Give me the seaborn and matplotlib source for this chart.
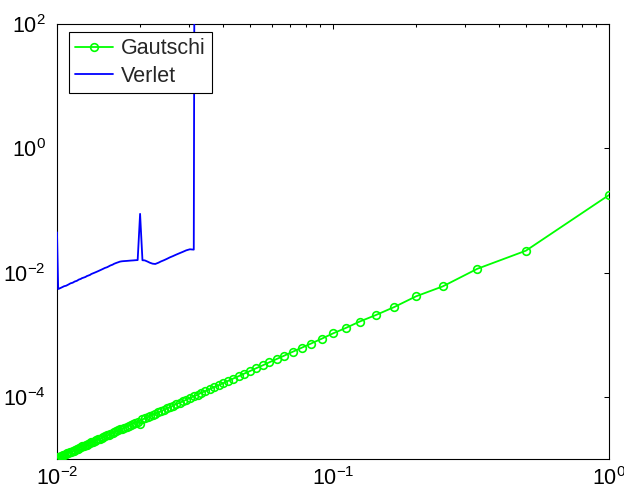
import numpy as np
import pandas as pd
import seaborn as sns
import matplotlib.pyplot as plt
from matplotlib.ticker import LogLocator, NullLocator

sns.set_style('white')
plt.rcParams['font.family'] = ['Liberation Sans', 'DejaVu Sans']
plt.rcParams['mathtext.fontset'] = 'custom'
plt.rcParams['mathtext.rm'] = 'Liberation Sans'
plt.rcParams['mathtext.it'] = 'Liberation Sans:italic'
plt.rcParams['mathtext.bf'] = 'Liberation Sans:bold'

# step sizes h = 1/n, n = 1..100
step_h = [1.0, 0.5, 0.3333, 0.25, 0.2, 0.1667, 0.1429, 0.125, 0.1111, 0.1,
          0.0909, 0.0833, 0.0769, 0.0714, 0.0667, 0.0625, 0.0588, 0.0556, 0.0526, 0.05,
          0.0476, 0.0455, 0.0435, 0.0417, 0.04, 0.0385, 0.037, 0.0357, 0.0345, 0.0333,
          0.0323, 0.0313, 0.0303, 0.0294, 0.0286, 0.0278, 0.027, 0.0263, 0.0256, 0.025,
          0.0244, 0.0238, 0.0233, 0.0227, 0.0222, 0.0217, 0.0213, 0.0208, 0.0204, 0.02,
          0.0196, 0.0192, 0.0189, 0.0185, 0.0182, 0.0179, 0.0175, 0.0172, 0.0169, 0.0167,
          0.0164, 0.0161, 0.0159, 0.0156, 0.0154, 0.0152, 0.0149, 0.0147, 0.0145, 0.0143,
          0.0141, 0.0139, 0.0137, 0.0135, 0.0133, 0.0132, 0.013, 0.0128, 0.0127, 0.0125,
          0.0123, 0.0122, 0.012, 0.0119, 0.0118, 0.0116, 0.0115, 0.0114, 0.0112, 0.0111,
          0.011, 0.0109, 0.0108, 0.0106, 0.0105, 0.0104, 0.0103, 0.0102, 0.0101, 0.01]

# Gautschi error, same order as step_h
gautschi_err = [0.177, 0.0225, 0.0115, 0.0060, 0.00415, 0.00279, 0.00207, 1.63e-3, 1.28e-3, 1.05e-3,
                8.60e-4, 7.22e-4, 6.15e-4, 5.31e-4, 4.62e-4, 4.06e-4, 3.60e-4, 3.21e-4, 2.88e-4, 2.60e-4,
                2.36e-4, 2.15e-4, 1.97e-4, 1.81e-4, 1.66e-4, 1.54e-4, 1.43e-4, 1.33e-4, 1.24e-4, 1.16e-4,
                1.08e-4, 1.02e-4, 9.55e-5, 9.00e-5, 8.49e-5, 8.02e-5, 7.60e-5, 7.20e-5, 6.84e-5, 6.50e-5,
                6.19e-5, 5.90e-5, 5.62e-5, 5.37e-5, 5.14e-5, 4.91e-5, 4.71e-5, 4.51e-5, 4.33e-5, 3.65e-5,
                4.00e-5, 3.85e-5, 3.70e-5, 3.57e-5, 3.44e-5, 3.32e-5, 3.20e-5, 3.09e-5, 2.99e-5, 2.89e-5,
                2.79e-5, 2.71e-5, 2.62e-5, 2.54e-5, 2.46e-5, 2.39e-5, 2.32e-5, 2.25e-5, 2.18e-5, 2.12e-5,
                2.06e-5, 2.01e-5, 1.95e-5, 1.90e-5, 1.85e-5, 1.80e-5, 1.75e-5, 1.71e-5, 1.67e-5, 1.63e-5,
                1.59e-5, 1.55e-5, 1.51e-5, 1.47e-5, 1.44e-5, 1.41e-5, 1.37e-5, 1.34e-5, 1.31e-5, 1.28e-5,
                1.26e-5, 1.23e-5, 1.20e-5, 1.18e-5, 1.15e-5, 1.13e-5, 1.11e-5, 1.08e-5, 1.06e-5, 1.05e-5]

# Verlet error for n = 31..100 (blows up at n = 31)
verlet_err = [1e25, 0.0234, 0.0237, 0.0228, 0.0216, 0.0205, 0.0194, 0.0184, 0.0175, 0.0166,
              0.0158, 0.0151, 0.0144, 0.01375, 0.0139, 0.0144, 0.0150, 0.0157, 0.0158, 0.088,
              0.0159, 0.0158, 0.0157, 0.0156, 0.0155, 0.0154, 0.0153, 0.0152, 0.0150, 0.0147,
              0.0143, 0.01384, 0.0134, 0.01299, 0.01259, 0.01221, 0.01185, 0.0115, 0.01117, 0.01086,
              0.01055, 0.01026, 9.98e-3, 9.72e-3, 9.46e-3, 9.21e-3, 8.97e-3, 8.74e-3, 8.52e-3, 8.31e-3,
              8.11e-3, 7.91e-3, 7.72e-3, 7.54e-3, 7.36e-3, 7.19e-3, 7.03e-3, 6.87e-3, 6.72e-3, 6.57e-3,
              6.42e-3, 6.29e-3, 6.15e-3, 6.02e-3, 5.89e-3, 5.77e-3, 5.65e-3, 5.54e-3, 5.43e-3, 0.0445]

df_g = pd.DataFrame({'h': step_h, 'err': gautschi_err})
df_v = pd.DataFrame({'h': step_h[30:], 'err': verlet_err})

fig = plt.figure(figsize=(6.24, 4.96), dpi=100)
ax = fig.add_axes([57 / 624, 1 - 459 / 496, 552 / 624, 435 / 496])
ax.set_xscale('log')
ax.set_yscale('log')

green = (0, 1, 0)
blue = (0, 0, 1)
sns.lineplot(data=df_g, x='h', y='err', ax=ax, errorbar=None, color=green, linewidth=1.3,
             marker='o', markersize=5.5, markerfacecolor='none', markeredgecolor=green,
             markeredgewidth=1.2, zorder=3)
sns.lineplot(data=df_v, x='h', y='err', ax=ax, errorbar=None, color=blue, linewidth=1.3,
             zorder=3)

ax.set_xlim(1e-2, 1)
ax.set_ylim(1e-5, 1e2)
ax.xaxis.set_major_locator(LogLocator(base=10, numticks=10))
ax.xaxis.set_minor_locator(LogLocator(base=10, subs=np.arange(2, 10), numticks=20))
ax.set_yticks([1e-4, 1e-2, 1e0, 1e2])
ax.yaxis.set_minor_locator(NullLocator())
ax.set_xlabel('')
ax.set_ylabel('')

ax.tick_params(which='both', direction='in', top=True, right=True, colors='black',
               width=0.75, labelsize=15.5)
ax.tick_params(which='major', length=3.5)
ax.tick_params(which='minor', length=2.5)
ax.tick_params(axis='x', pad=6)
ax.tick_params(axis='y', pad=8)
for s in ax.spines.values():
    s.set_color('black')
    s.set_linewidth(0.8)

lines = ax.get_lines()
leg = ax.legend(lines[:2], ['Gautschi', 'Verlet'], loc='upper left',
                bbox_to_anchor=(69 / 624, 1 - 32 / 496), bbox_transform=fig.transFigure,
                borderaxespad=0, fancybox=False, edgecolor='black', framealpha=1,
                fontsize=15.5, handlelength=1.75, handletextpad=0.35, labelspacing=0.3,
                borderpad=0.3, numpoints=1)
leg.get_frame().set_linewidth(0.8)
leg.set_zorder(5)

fig.savefig('out.png', dpi=100)
